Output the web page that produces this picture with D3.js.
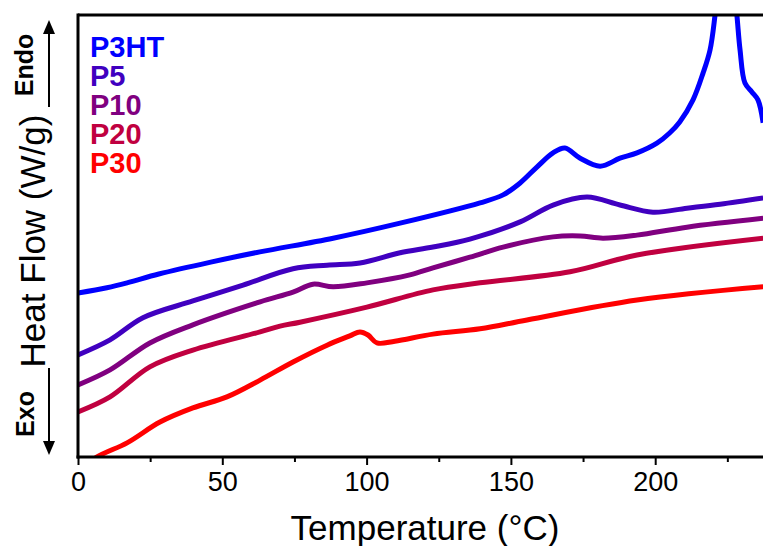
<!DOCTYPE html>
<html>
<head>
<meta charset="utf-8">
<script src="https://cdn.jsdelivr.net/npm/d3@7"></script>
<style>
  body { margin: 0; background: #fff; }
  text { font-family: "Liberation Sans", Arial, sans-serif; }
</style>
</head>
<body>
<div id="chart"></div>
<script>
// DSC traces (temperature in °C, heat flow in arbitrary offset units)
const seriesNames = ["P3HT", "P5", "P10", "P20", "P30"];
const seriesColors = ["#0000ff", "#4000c0", "#800080", "#c00040", "#ff0000"];

const tP3HT = [0, 10, 17, 28, 46, 63, 88.4, 111.6, 139.3, 147.3, 153.2, 159, 164.6, 168.7, 174, 180.9, 187.8, 193.7, 200.6, 205, 208.5, 213.1, 216.6, 219, 220.7, 222, 224.5, 227, 228.3, 229.4, 231.1, 233.5, 235.6, 237.4];
const vP3HT = [3.71, 3.83, 3.94, 4.14, 4.41, 4.64, 4.95, 5.29, 5.75, 5.93, 6.20, 6.56, 6.88, 6.99, 6.76, 6.58, 6.76, 6.88, 7.10, 7.33, 7.58, 8.08, 8.69, 9.21, 9.98, 10.8, 11.6, 10.8, 10.0, 9.21, 8.46, 8.26, 8.08, 7.56];

const tP5 = [0, 11.1, 22.5, 39.8, 57.2, 74.5, 86.3, 97.7, 111.6, 123, 135.8, 153.2, 164.6, 176.4, 187.8, 199.2, 211, 222.5, 237.4];
const vP5 = [2.31, 2.65, 3.15, 3.53, 3.89, 4.26, 4.34, 4.39, 4.62, 4.75, 4.93, 5.32, 5.70, 5.88, 5.70, 5.54, 5.63, 5.72, 5.86];

const tP10 = [0, 11.1, 24.9, 39.8, 63.1, 74.5, 81.4, 88.4, 100.1, 115, 123, 135.8, 147.3, 164.6, 174, 181.9, 193.7, 211, 237.4];
const vP10 = [1.63, 1.97, 2.58, 2.99, 3.51, 3.73, 3.91, 3.85, 3.94, 4.12, 4.28, 4.52, 4.75, 4.98, 5.00, 4.95, 5.02, 5.20, 5.40];

const tP20 = [0, 11.1, 24.9, 39.8, 63.1, 70, 76.9, 100.1, 123, 139.3, 170.5, 193.7, 237.4];
const vP20 = [1.02, 1.36, 2.04, 2.42, 2.83, 2.96, 3.05, 3.39, 3.78, 3.94, 4.19, 4.57, 4.95];

const tP30 = [0, 6.6, 17, 28.4, 39.8, 51.6, 63.1, 74.5, 86.3, 94.2, 97.7, 100.5, 103.6, 109.8, 123, 139.3, 155.6, 193.7, 237.4];
const vP30 = [-0.34, 0.0, 0.32, 0.79, 1.11, 1.36, 1.74, 2.15, 2.53, 2.74, 2.83, 2.76, 2.58, 2.62, 2.78, 2.90, 3.10, 3.55, 3.85];

const xTicks = [0, 50, 100, 150, 200];
const xMinorTicks = [25, 75, 125, 175, 225];

const series = [
    { name: seriesNames[0], color: seriesColors[0], t: tP3HT, v: vP3HT },
    { name: seriesNames[1], color: seriesColors[1], t: tP5, v: vP5 },
    { name: seriesNames[2], color: seriesColors[2], t: tP10, v: vP10 },
    { name: seriesNames[3], color: seriesColors[3], t: tP20, v: vP20 },
    { name: seriesNames[4], color: seriesColors[4], t: tP30, v: vP30 },
];

const width = 763;
const height = 546;
const plotLeft = 78, plotTop = 15, plotBottom = 457;

const svg = d3.select("#chart")
    .append("svg")
    .attr("width", width)
    .attr("height", height);

// x axis runs past the right edge of the picture (cropped figure)
const x = d3.scaleLinear().domain([0, 250]).range([plotLeft, plotLeft + 250 * 2.886]);
const y = d3.scaleLinear().domain([0, 10]).range([plotBottom, plotTop]);

svg.append("clipPath").attr("id", "plot-clip")
    .append("rect")
    .attr("x", plotLeft).attr("y", plotTop)
    .attr("width", width - plotLeft + 50).attr("height", plotBottom - plotTop);

const line = d3.line()
    .x(d => x(d[0]))
    .y(d => y(d[1]))
    .curve(d3.curveCatmullRom.alpha(0.5));

const plot = svg.append("g").attr("clip-path", "url(#plot-clip)");
series.forEach(s => {
    plot.append("path")
        .attr("d", line(s.t.map((t, i) => [t, s.v[i]])))
        .attr("fill", "none")
        .attr("stroke", s.color)
        .attr("stroke-width", 5)
        .attr("stroke-linejoin", "round");
});

// frame: left and top lines
svg.append("line").attr("x1", plotLeft).attr("x2", width + 10).attr("y1", plotTop).attr("y2", plotTop)
    .attr("stroke", "#000").attr("stroke-width", 3);
svg.append("line").attr("x1", plotLeft).attr("x2", plotLeft).attr("y1", plotTop - 1.5).attr("y2", plotBottom + 1.5)
    .attr("stroke", "#000").attr("stroke-width", 3);

const xAxis = svg.append("g")
    .attr("transform", `translate(0,${plotBottom})`)
    .call(d3.axisBottom(x).tickValues(xTicks).tickSize(8).tickPadding(7).tickFormat(d3.format("d")));
xAxis.select(".domain").attr("stroke-width", 3).attr("d", `M${plotLeft - 1.5},0H${width + 10}`);
xAxis.selectAll(".tick line").attr("stroke-width", 2);
xAxis.selectAll(".tick text")
    .attr("font-size", 27)
    .attr("fill", "#000")
    .style("font-family", "'Liberation Sans', Arial, sans-serif");

svg.append("g")
    .attr("transform", `translate(0,${plotBottom})`)
    .call(d3.axisBottom(x).tickValues(xMinorTicks).tickSize(5).tickFormat(""))
    .call(g => g.select(".domain").remove())
    .selectAll(".tick line").attr("stroke-width", 2);

// axis titles
svg.append("text")
    .attr("x", 425).attr("y", 540)
    .attr("text-anchor", "middle")
    .attr("font-size", 35)
    .text("Temperature (°C)");

svg.append("text")
    .attr("transform", "translate(45,241) rotate(-90)")
    .attr("text-anchor", "middle")
    .attr("font-size", 35)
    .text("Heat Flow (W/g)");

svg.append("text")
    .attr("transform", "translate(33,65) rotate(-90)")
    .attr("text-anchor", "middle")
    .attr("font-size", 25)
    .attr("font-weight", "bold")
    .text("Endo");

svg.append("text")
    .attr("transform", "translate(34,414) rotate(-90)")
    .attr("text-anchor", "middle")
    .attr("font-size", 25)
    .attr("font-weight", "bold")
    .text("Exo");

// endo / exo arrows
svg.append("line").attr("x1", 49).attr("x2", 49).attr("y1", 107).attr("y2", 32)
    .attr("stroke", "#000").attr("stroke-width", 2);
svg.append("path").attr("d", "M49,20L43,34L55,34Z").attr("fill", "#000");
svg.append("line").attr("x1", 49).attr("x2", 49).attr("y1", 368).attr("y2", 443)
    .attr("stroke", "#000").attr("stroke-width", 2);
svg.append("path").attr("d", "M49,455L43,441L55,441Z").attr("fill", "#000");

// legend
svg.selectAll(".legend")
    .data(series)
    .enter()
    .append("text")
    .attr("class", "legend")
    .attr("x", 90)
    .attr("y", (d, i) => 57 + i * 29)
    .attr("font-size", 29)
    .attr("font-weight", "bold")
    .attr("fill", d => d.color)
    .text(d => d.name);
</script>
</body>
</html>
